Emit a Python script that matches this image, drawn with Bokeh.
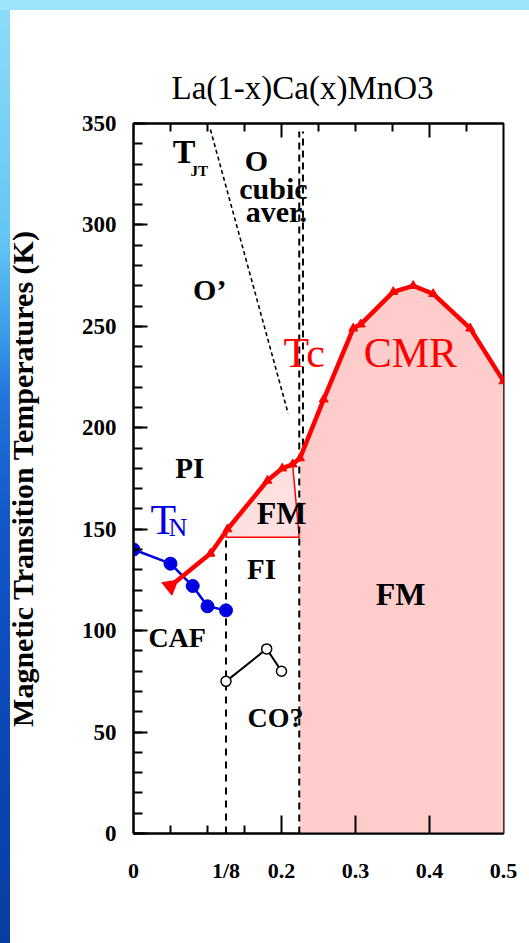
from bokeh.plotting import figure
from bokeh.models import LinearAxis, FixedTicker, ColumnDataSource, Title
from bokeh.core.properties import value
from bokeh.embed import file_html
from bokeh.resources import INLINE

# ---------------- data ----------------
# Curie temperature Tc (red)
tc_x = [0.05, 0.104, 0.127, 0.181, 0.201, 0.215, 0.225, 0.257, 0.297, 0.307, 0.351, 0.378, 0.405, 0.455, 0.5]
tc_T = [122, 138, 150, 174, 180, 182, 185, 214, 249, 251, 267, 270, 266, 249, 223]
# Neel temperature TN (blue)
tn_x = [0.0, 0.05, 0.08, 0.1, 0.125]
tn_T = [140, 133, 122, 112, 110]
# charge ordering (black, open circles)
co_x = [0.125, 0.18, 0.2]
co_T = [75, 91, 80]
# Jahn-Teller boundary (dashed)
jt_x = [0.104, 0.209]
jt_T = [347, 207]
# phase boundaries
x_eighth = 0.125
x_fm = 0.224
fi_fm_T = 146

x_ticks_labels = {0: "0", 0.125: "1/8", 0.2: "0.2", 0.3: "0.3", 0.4: "0.4", 0.5: "0.5"}
y_ticks = list(range(0, 351, 50))

SERIF = "Liberation Serif"
RED = "#ff0000"
BLUE = "#0000e0"

W, H = 529, 943
p = figure(width=W, height=H, x_range=(0, 0.5), y_range=(0, 350),
           x_axis_location=None, y_axis_location=None,
           output_backend="svg", toolbar_location=None,
           min_border_left=133, min_border_right=W - 503,
           min_border_top=123, min_border_bottom=H - 833)
p.grid.visible = False
p.outline_line_color = "black"
p.outline_line_width = 2
p.background_fill_color = "white"
p.border_fill_color = None
# slide background: light-blue strip on top, blue gradient strip on the left
p.styles = {
    "background": (
        "linear-gradient(#9ce4fa, #9ce4fa) 0 0 / 100% 10px no-repeat, "
        "linear-gradient(to bottom, #8edcf8 0px, #62c6f3 240px, #3a9ee8 330px, "
        "#2274da 400px, #1258c8 520px, #0c4ab8 700px, #083ea2 100%) 0 0 / 10px 100% no-repeat, "
        "#ffffff"
    )
}

p.title = Title(text="La(1-x)Ca(x)MnO3", align="left", offset=38,
                text_font=SERIF, text_font_style="normal", text_color="black",
                text_font_size="33px", standoff=35)


def style_ticks(ax, major_in, minor_in):
    ax.axis_line_color = "black"
    ax.axis_line_width = 2
    ax.major_tick_line_color = "black"
    ax.minor_tick_line_color = "black"
    ax.major_tick_line_width = 2
    ax.minor_tick_line_width = 2
    ax.major_tick_in = major_in
    ax.major_tick_out = 0
    ax.minor_tick_in = minor_in
    ax.minor_tick_out = 0


# left axis
yaxis = LinearAxis(ticker=FixedTicker(ticks=y_ticks, minor_ticks=list(range(0, 351, 10))),
                   axis_label="Magnetic Transition Temperatures (K)")
style_ticks(yaxis, 14, 9)
yaxis.major_label_text_font = SERIF
yaxis.major_label_text_font_style = "bold"
yaxis.major_label_text_font_size = "23px"
yaxis.major_label_text_color = "black"
yaxis.major_label_standoff = 17
yaxis.axis_label_text_font = SERIF
yaxis.axis_label_text_font_style = "bold"
yaxis.axis_label_text_font_size = "30px"
yaxis.axis_label_text_color = "black"
yaxis.axis_label_standoff = 40
p.add_layout(yaxis, "left")

# top axis (ticks only)
xtop = LinearAxis(ticker=FixedTicker(ticks=[0.2, 0.4],
                                     minor_ticks=[0.05, 0.1, 0.15, 0.25, 0.3, 0.35, 0.45]),
                  major_label_overrides={0.2: "", 0.4: ""})
style_ticks(xtop, 14, 8)
xtop.major_label_standoff = 0
xtop.major_label_text_font_size = "2px"
p.add_layout(xtop, "above")

# bottom axis (ticks only)
xb1 = LinearAxis(ticker=FixedTicker(ticks=[0.2, 0.3, 0.4], minor_ticks=[0.05, 0.1, 0.15]),
                 major_label_overrides={0.2: "", 0.3: "", 0.4: ""})
style_ticks(xb1, 18, 8)
xb1.major_label_standoff = 0
xb1.major_label_text_font_size = "2px"
p.add_layout(xb1, "below")

# bottom axis (labels only)
xb2 = LinearAxis(ticker=FixedTicker(ticks=list(x_ticks_labels.keys()), minor_ticks=[]),
                 major_label_overrides=x_ticks_labels)
xb2.axis_line_color = None
xb2.major_tick_line_color = None
xb2.minor_tick_line_color = None
xb2.major_tick_in = 0
xb2.major_tick_out = 0
xb2.major_label_text_font = SERIF
xb2.major_label_text_font_style = "bold"
xb2.major_label_text_font_size = "22px"
xb2.major_label_text_color = "black"
xb2.major_label_standoff = 24
p.add_layout(xb2, "below")

# ---------------- filled regions ----------------
cmr_x = [x for x in tc_x if x >= x_fm]
cmr_T = [t for x, t in zip(tc_x, tc_T) if x >= x_fm]
p.varea(x=cmr_x, y1=[0] * len(cmr_x), y2=cmr_T, fill_color="#ffcccc")

fm_pts = [(x, t) for x, t in zip(tc_x, tc_T) if x_eighth <= x <= x_fm]
fm_px = [x_eighth] + [x for x, _ in fm_pts] + [x_fm]
fm_pT = [fi_fm_T] + [t for _, t in fm_pts] + [fi_fm_T]
p.patch(x=fm_px, y=fm_pT, fill_color="#ffe0e0", line_color=RED, line_width=1.5)

# ---------------- dashed boundaries ----------------
p.line(x=jt_x, y=jt_T, line_color="black", line_width=1.6, line_dash="4 3")
p.line(x=[x_fm, x_fm], y=[0, 346], line_color="black", line_width=2, line_dash="7 5")
p.line(x=[x_fm + 0.005, x_fm + 0.005], y=[346, 187], line_color="black", line_width=2,
       line_dash="7 5", line_dash_offset=5)
p.line(x=[x_eighth, x_eighth], y=[0, fi_fm_T], line_color="black", line_width=2, line_dash="7 6")

# ---------------- curves ----------------
p.line(x=tn_x, y=tn_T, line_color=BLUE, line_width=2.5)
p.scatter(x=tn_x, y=tn_T, marker="circle", size=13, fill_color=BLUE, line_color=BLUE)

p.line(x=co_x, y=co_T, line_color="black", line_width=2)
p.scatter(x=co_x, y=co_T, marker="circle", size=10, fill_color="white", line_color="black",
          line_width=1.5)

p.line(x=tc_x, y=tc_T, line_color=RED, line_width=4.5)
p.scatter(x=tc_x, y=tc_T, marker="triangle", size=9, fill_color=RED, line_color=RED)
p.scatter(x=tc_x[:1], y=tc_T[:1], marker="triangle", angle=1.2, size=16,
          fill_color=RED, line_color=RED)

# ---------------- labels ----------------
lab = ColumnDataSource(dict(
    x=[0.166, 0.189, 0.193, 0.103, 0.076, 0.2, 0.173, 0.059, 0.192, 0.361],
    y=[332, 318, 306.5, 268, 180, 158, 130.6, 96.6, 57.2, 118.3],
    text=["O", "cubic", "aver.", "O’", "PI", "FM", "FI", "CAF", "CO?", "FM"],
    size=["30px", "30px", "30px", "30px", "29px", "32px", "29px", "28px", "28px", "32px"],
))
p.text(x="x", y="y", text="text", source=lab, text_font=value(SERIF),
       text_font_style="bold", text_font_size="size", text_color="black",
       text_align="center", text_baseline="middle")
# T_JT
p.text(x=[0.053, 0.077], y=[336, 326.5], text=["T", "JT"], text_font=value(SERIF),
       text_font_style="bold", text_font_size=["34px", "15px"], text_color="black",
       text_align="left", text_baseline="alphabetic")
# T_N
p.text(x=[0.023, 0.0473], y=[154.4, 151], text=["T", "N"], text_font=value(SERIF),
       text_font_size=["42px", "26px"], text_color=BLUE, text_align="left",
       text_baseline="alphabetic")
# Tc, CMR
p.text(x=[0.2027, 0.311], y=[237, 237], text=["Tc", "CMR"], text_font=value(SERIF),
       text_font_size=value("42px"), text_color=RED, text_align="left",
       text_baseline="alphabetic")

open("out.html", "w").write(file_html(p, INLINE))
